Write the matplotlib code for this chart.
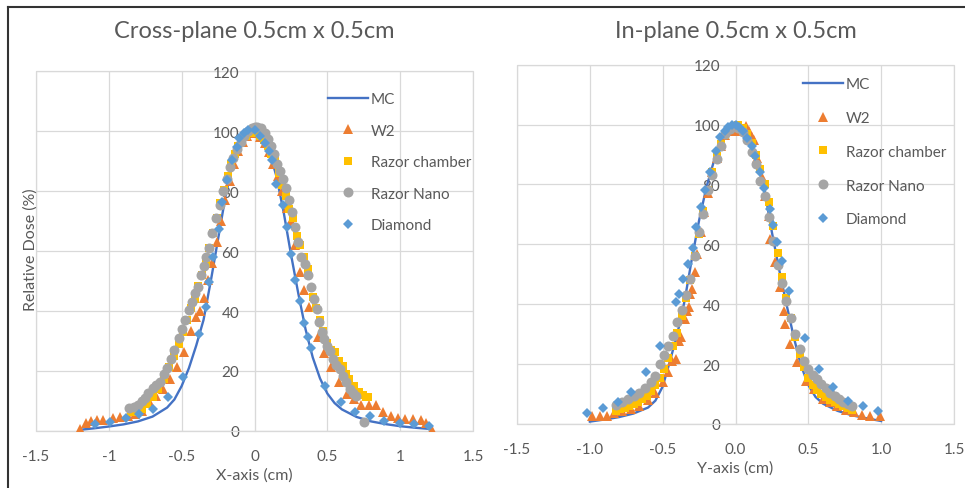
import numpy as np
import matplotlib.pyplot as plt
from matplotlib.patches import Rectangle
from matplotlib.lines import Line2D

plt.rcParams['font.family'] = ['Lato', 'DejaVu Sans']

# ---- Cross-plane (left panel) ----
mc_x_cross = [-1.2, -1.1, -1.0, -0.9, -0.8, -0.7, -0.6, -0.55, -0.5, -0.45, -0.4, -0.35, -0.3, -0.25,
              -0.2, -0.15, -0.1, -0.05, 0.0, 0.05, 0.1, 0.15, 0.2, 0.25, 0.3, 0.35, 0.4, 0.45, 0.5,
              0.55, 0.6, 0.7, 0.8, 0.9, 1.0, 1.1, 1.2]
mc_y_cross = [0.4, 0.9, 1.5, 2.2, 3.2, 4.8, 7.8, 10.5, 15, 21, 28.5, 37, 50, 64,
              78, 89, 96, 99.5, 100, 98.5, 93.5, 85, 73, 59, 46, 34, 24.5, 17.5, 12.5,
              9.3, 7.2, 4.7, 3.2, 2.3, 1.6, 1.1, 0.7]

w2_x_cross = [-1.2, -1.16, -1.12, -1.08, -1.04, -0.97, -0.92, -0.87, -0.82, -0.77, -0.72, -0.675, -0.63,
              -0.58, -0.53, -0.485, -0.435, -0.4, -0.375, -0.35, -0.32, -0.29, -0.26, -0.23, -0.2, -0.17,
              -0.14, -0.11, -0.08, -0.05, -0.02, 0.01, 0.04, 0.07, 0.1, 0.13, 0.16, 0.19, 0.22, 0.25,
              0.28, 0.31, 0.34, 0.377, 0.435, 0.48, 0.526, 0.583, 0.634, 0.68, 0.73, 0.785, 0.835,
              0.885, 0.94, 0.985, 1.035, 1.09, 1.14, 1.18, 1.22]
w2_y_cross = [0.8, 2.7, 3.4, 3.6, 3.8, 4.2, 4.6, 5.1, 5.8, 6.8, 9.5, 11.8, 14,
              17.3, 21.5, 26.4, 33.4, 37.9, 40, 44.5, 50.5, 56, 63, 70, 77, 83.5,
              89, 93.5, 96.5, 98.5, 99.5, 99.5, 98, 96, 93, 89, 85, 80, 74.5, 70,
              62, 53, 47, 41.2, 31.2, 26, 21.2, 16.2, 12.3, 10.7, 8.7, 8.7, 8.7,
              6.2, 5.1, 4.3, 4.0, 4.0, 3.6, 2.8, 0.3]

rc_x_cross = [-0.85, -0.8, -0.775, -0.74, -0.7, -0.66, -0.62, -0.585, -0.555, -0.52, -0.49, -0.46, -0.435,
              -0.41, -0.385, -0.36, -0.335, -0.31, -0.285, -0.26, -0.235, -0.21, -0.185, -0.16, -0.135,
              -0.11, -0.085, -0.06, -0.035, -0.01, 0.015, 0.04, 0.065, 0.09, 0.115, 0.14, 0.165, 0.19,
              0.215, 0.24, 0.265, 0.29, 0.315, 0.34, 0.365, 0.4, 0.425, 0.45, 0.47, 0.5, 0.525, 0.55,
              0.58, 0.606, 0.63, 0.652, 0.68, 0.72, 0.745, 0.767, 0.78]
rc_y_cross = [6.5, 6.5, 7.5, 9, 11.5, 14, 17.5, 21.5, 25, 29, 33, 37, 41,
              44, 48.5, 52, 56, 61, 66, 71, 76, 80.5, 85, 89, 92.5,
              95, 97, 98.5, 99.5, 100, 99.5, 98.5, 97, 95, 92.5, 90.8, 86, 82,
              78.4, 74, 71, 65, 62, 58, 54, 44.6, 41, 37, 33.4, 29.5, 27, 26.2,
              23.5, 21.6, 19, 17.3, 15, 12.9, 12, 11.2, 11.3]

rn_x_cross = [-0.86, -0.83, -0.8, -0.77, -0.75, -0.73, -0.7, -0.675, -0.65, -0.62, -0.6, -0.575, -0.55,
              -0.52, -0.5, -0.475, -0.45, -0.43, -0.41, -0.39, -0.37, -0.35, -0.33, -0.31, -0.29, -0.265,
              -0.24, -0.215, -0.19, -0.17, -0.145, -0.12, -0.095, -0.07, -0.045, -0.02, 0.0, 0.02, 0.045,
              0.07, 0.092, 0.115, 0.135, 0.155, 0.175, 0.195, 0.215, 0.235, 0.255, 0.275, 0.3, 0.32,
              0.345, 0.366, 0.39, 0.41, 0.43, 0.446, 0.465, 0.48, 0.5, 0.52, 0.538, 0.56, 0.586, 0.61,
              0.63, 0.654, 0.675, 0.698, 0.755]
rn_y_cross = [7.6, 8, 8.7, 10, 11, 12.7, 14.4, 15.5, 16.5, 19, 21, 24, 27,
              31, 34, 37, 40.5, 43, 46, 48, 52, 55, 58, 61, 66, 71,
              75.5, 80, 84, 88, 91, 94, 96.5, 98.5, 100, 101, 101.5, 101.5, 101,
              99.5, 97.5, 95, 92.5, 89, 86.8, 84, 81, 77, 73, 68, 63, 58,
              55.7, 52, 48, 44, 40.7, 36.2, 33, 30.7, 28.5, 26.8, 24, 22, 20.7, 18.4,
              16.2, 14, 12.8, 11.8, 2.9]

dm_x_cross = [-1.095, -0.99, -0.883, -0.79, -0.695, -0.595, -0.494, -0.382, -0.33, -0.311, -0.284, -0.245,
              -0.222, -0.192, -0.155, -0.123, -0.105, -0.07, -0.043, 0.0, 0.037, 0.075, 0.1, 0.123, 0.151,
              0.197, 0.224, 0.254, 0.281, 0.309, 0.343, 0.366, 0.389, 0.487, 0.595, 0.693, 0.794, 0.892,
              1.0, 1.098, 1.2]
dm_y_cross = [2.4, 3.0, 4.3, 5.6, 7.2, 11.3, 18, 32.2, 41.3, 49.6, 57.9, 67.3,
              76.2, 83.6, 90.5, 94.7, 97.8, 99.5, 100.3, 100.3, 98.4, 96, 93.5, 90.4, 82.3,
              75.4, 67.9, 59, 50.5, 43.4, 35.9, 31.2, 27.6, 15.1, 9.8, 6.4, 4.9, 3.4,
              2.7, 2.3, 1.8]

# ---- In-plane (right panel) ----
mc_x_in = [-1.0, -0.9, -0.8, -0.7, -0.6, -0.55, -0.5, -0.45, -0.4, -0.35, -0.3, -0.25, -0.2, -0.15,
           -0.1, -0.05, 0.0, 0.05, 0.1, 0.15, 0.2, 0.25, 0.3, 0.35, 0.4, 0.45, 0.5, 0.55, 0.6, 0.7,
           0.8, 0.9, 1.0]
mc_y_in = [0.8, 1.5, 2.3, 3.5, 5.5, 7.8, 12.5, 21, 30, 41, 55, 68, 79, 87.5,
           94, 97.8, 99, 98.3, 94.5, 87.5, 78, 64, 51.5, 40, 29, 19.5, 13, 9, 6.8, 4.4,
           2.9, 1.9, 1.0]

w2_x_in = [-0.983, -0.93, -0.885, -0.835, -0.78, -0.72, -0.66, -0.6, -0.55, -0.5, -0.465, -0.434, -0.41,
           -0.389, -0.377, -0.35, -0.336, -0.32, -0.309, -0.297, -0.281, -0.263, -0.24, -0.217, -0.19,
           -0.16, -0.13, -0.1, -0.069, -0.035, 0.0, 0.035, 0.069, 0.09, 0.11, 0.126, 0.15, 0.18, 0.205,
           0.229, 0.24, 0.274, 0.304, 0.332, 0.343, 0.377, 0.423, 0.487, 0.542, 0.6, 0.65, 0.7, 0.76,
           0.812, 0.869, 0.926, 0.99]
w2_y_in = [2.6, 2.8, 2.8, 3.7, 4.2, 5, 6, 8, 10.5, 14, 17.5, 21.2, 21.7,
           27.8, 29, 35, 37.7, 39, 43.3, 45, 50.7, 56.8, 64, 70.7, 77,
           84, 89, 93, 96.5, 98, 98, 98.5, 99.5, 98, 96, 94.7, 89, 82.5, 76,
           69.6, 61.8, 54, 45.7, 37.9, 33.4, 26.7, 20.6, 14.5, 11.7, 8.5, 7.2, 6.0, 4.8,
           3.9, 3.0, 2.8, 2.8]

rc_x_in = [-0.82, -0.79, -0.76, -0.73, -0.7, -0.67, -0.64, -0.61, -0.58, -0.55, -0.52, -0.49, -0.46,
           -0.43, -0.4, -0.37, -0.34, -0.31, -0.28, -0.25, -0.22, -0.19, -0.16, -0.13, -0.1, -0.07,
           -0.04, -0.01, 0.02, 0.05, 0.08, 0.11, 0.14, 0.17, 0.2, 0.23, 0.26, 0.29, 0.32, 0.35, 0.38,
           0.41, 0.44, 0.47, 0.5, 0.53, 0.56, 0.59, 0.62, 0.65, 0.68, 0.71, 0.74, 0.77, 0.8]
rc_y_in = [4.5, 5, 5.5, 6, 6.8, 7.5, 8.5, 9.5, 11, 13, 15.5, 18.5, 22,
           26, 30.5, 36, 42, 48, 56, 63.5, 71, 78, 84, 89.5, 93.5, 96.5,
           98.5, 99.5, 100, 99, 97, 94, 90, 85, 80, 74, 66, 57, 49, 42, 35.5,
           29, 23.5, 19, 15.5, 13, 11.5, 10, 9, 8, 7.3, 6.6, 6, 5.4, 4.8]

rn_x_in = [-0.82, -0.78, -0.74, -0.7, -0.66, -0.62, -0.58, -0.55, -0.52, -0.49, -0.46, -0.43, -0.4,
           -0.37, -0.34, -0.31, -0.28, -0.25, -0.22, -0.19, -0.16, -0.13, -0.1, -0.07, -0.04, -0.01,
           0.02, 0.05, 0.08, 0.11, 0.14, 0.17, 0.2, 0.23, 0.26, 0.29, 0.32, 0.35, 0.38, 0.41, 0.44,
           0.47, 0.5, 0.53, 0.56, 0.59, 0.62, 0.65, 0.68, 0.71, 0.74, 0.77, 0.8]
rn_y_in = [6.5, 7.5, 8.3, 9.3, 10.5, 12, 14, 16, 20, 23, 26, 29.5, 34,
           38, 43, 48.5, 56, 64, 70, 78, 83, 88.5, 93, 97, 98.5, 99.5,
           99, 97.5, 95, 91, 87, 81, 76, 69, 61, 53, 47, 41, 35.5, 30, 25,
           21, 18.5, 16.5, 15, 13.5, 12, 10.5, 9.5, 8.5, 7.5, 6.8, 6]

dm_x_in = [-1.018, -0.908, -0.807, -0.72, -0.613, -0.519, -0.407, -0.386, -0.359, -0.327, -0.295, -0.27,
           -0.24, -0.21, -0.178, -0.135, -0.103, -0.075, -0.053, -0.025, 0.0, 0.023, 0.05, 0.08, 0.114,
           0.137, 0.167, 0.199, 0.236, 0.258, 0.286, 0.32, 0.37, 0.476, 0.572, 0.668, 0.771, 0.874, 0.976]
dm_y_in = [3.6, 5.2, 7.5, 10.8, 17.3, 26.2, 40.9, 43.5, 48.4, 53.5, 58.7, 65.8,
           72.4, 78.3, 84.3, 91.1, 95.8, 98, 99.1, 99.8, 99.9, 99.1, 98, 95.4, 93,
           89.6, 84.3, 78.8, 71.8, 66.5, 60.7, 54.6, 44.5, 28.6, 18.4, 12.2, 7.8, 5.9, 4.5]

x_ticks = [-1.5, -1.0, -0.5, 0.0, 0.5, 1.0, 1.5]
x_labels_cross = ['-1.5', '-1', '-0.5', '0', '0.5', '1', '1.5']
x_labels_in = ['-1.5', '-1.0', '-0.5', '0.0', '0.5', '1.0', '1.5']
y_ticks = [0, 20, 40, 60, 80, 100, 120]

TXT = '#595959'
GRID = '#d9d9d9'

fig = plt.figure(figsize=(9.65, 4.89), dpi=100)
W, H = 965, 489
ax1 = fig.add_axes([36 / W, 1 - 432 / H, 437 / W, 360 / H])
ax2 = fig.add_axes([517 / W, 1 - 425 / H, 437 / W, 359.3 / H])


def draw_panel(ax, mc, w2, rc, rn, dm):
    ax.plot(mc[0], mc[1], color='#4472C4', lw=1.7, label='MC', zorder=3)
    ax.plot(w2[0], w2[1], ls='none', marker='^', ms=7, color='#ED7D31', mew=0, label='W2', zorder=4)
    ax.plot(rc[0], rc[1], ls='none', marker='s', ms=5.5, color='#FFC000', mew=0, label='Razor chamber', zorder=5)
    ax.plot(rn[0], rn[1], ls='none', marker='o', ms=7.2, color='#A5A5A5', mew=0, label='Razor Nano', zorder=6)
    ax.plot(dm[0], dm[1], ls='none', marker='D', ms=4.7, color='#5B9BD5', mew=0, label='Diamond', zorder=7)


def style_panel(ax, xlabels, xlabel):
    ax.set_xlim(-1.5, 1.5)
    ax.set_ylim(0, 120)
    ax.set_xticks(x_ticks)
    ax.set_xticklabels(xlabels)
    ax.set_yticks(y_ticks)
    ax.grid(True, color=GRID, lw=0.9)
    ax.set_axisbelow(True)
    for s in ['top', 'right']:
        ax.spines[s].set_visible(False)
    ax.spines['left'].set_position(('data', 0))
    ax.spines['left'].set_color(GRID)
    ax.spines['bottom'].set_color(GRID)
    ax.add_patch(Rectangle((0, 0), 1, 1, transform=ax.transAxes, fill=False,
                           ec=GRID, lw=0.9, clip_on=False, zorder=0))
    ax.tick_params(length=0, labelsize=11, colors=TXT)
    ax.tick_params(axis='x', pad=13)
    ax.tick_params(axis='y', pad=11)
    ax.set_xlabel(xlabel, fontsize=11.5, color=TXT, labelpad=3)


draw_panel(ax1, (mc_x_cross, mc_y_cross), (w2_x_cross, w2_y_cross), (rc_x_cross, rc_y_cross),
           (rn_x_cross, rn_y_cross), (dm_x_cross, dm_y_cross))
draw_panel(ax2, (mc_x_in, mc_y_in), (w2_x_in, w2_y_in), (rc_x_in, rc_y_in),
           (rn_x_in, rn_y_in), (dm_x_in, dm_y_in))
style_panel(ax1, x_labels_cross, 'X-axis (cm)')
style_panel(ax2, x_labels_in, 'Y-axis (cm)')

ax1.set_ylabel('Relative Dose (%)', fontsize=11.5, color=TXT)
ax1.yaxis.set_label_coords(0.004, 0.506)

fig.text(254.5 / W, 1 - 31 / H, 'Cross-plane 0.5cm x 0.5cm', ha='center', va='center',
         fontsize=17, color=TXT)
fig.text(735.5 / W, 1 - 31 / H, 'In-plane 0.5cm x 0.5cm', ha='center', va='center',
         fontsize=17, color=TXT)

ax1.legend(loc='upper left', bbox_to_anchor=(328 / W, 1 - 93 / H), bbox_transform=fig.transFigure,
           frameon=False, fontsize=11, labelcolor=TXT, handlelength=2.6, handletextpad=0.2,
           labelspacing=1.15, borderpad=0, borderaxespad=0, numpoints=1)
ax2.legend(loc='upper left', bbox_to_anchor=(803 / W, 1 - 78 / H), bbox_transform=fig.transFigure,
           frameon=False, fontsize=11, labelcolor=TXT, handlelength=2.6, handletextpad=0.2,
           labelspacing=1.3, borderpad=0, borderaxespad=0, numpoints=1)

# outer frame lines (top and left)
fig.add_artist(Line2D([8 / W, 1], [1 - 8 / H, 1 - 8 / H], transform=fig.transFigure, color='#333333', lw=1.5))
fig.add_artist(Line2D([8 / W, 8 / W], [0, 1 - 8 / H], transform=fig.transFigure, color='#333333', lw=1.5))

fig.savefig('out.png', dpi=100, facecolor='white')
